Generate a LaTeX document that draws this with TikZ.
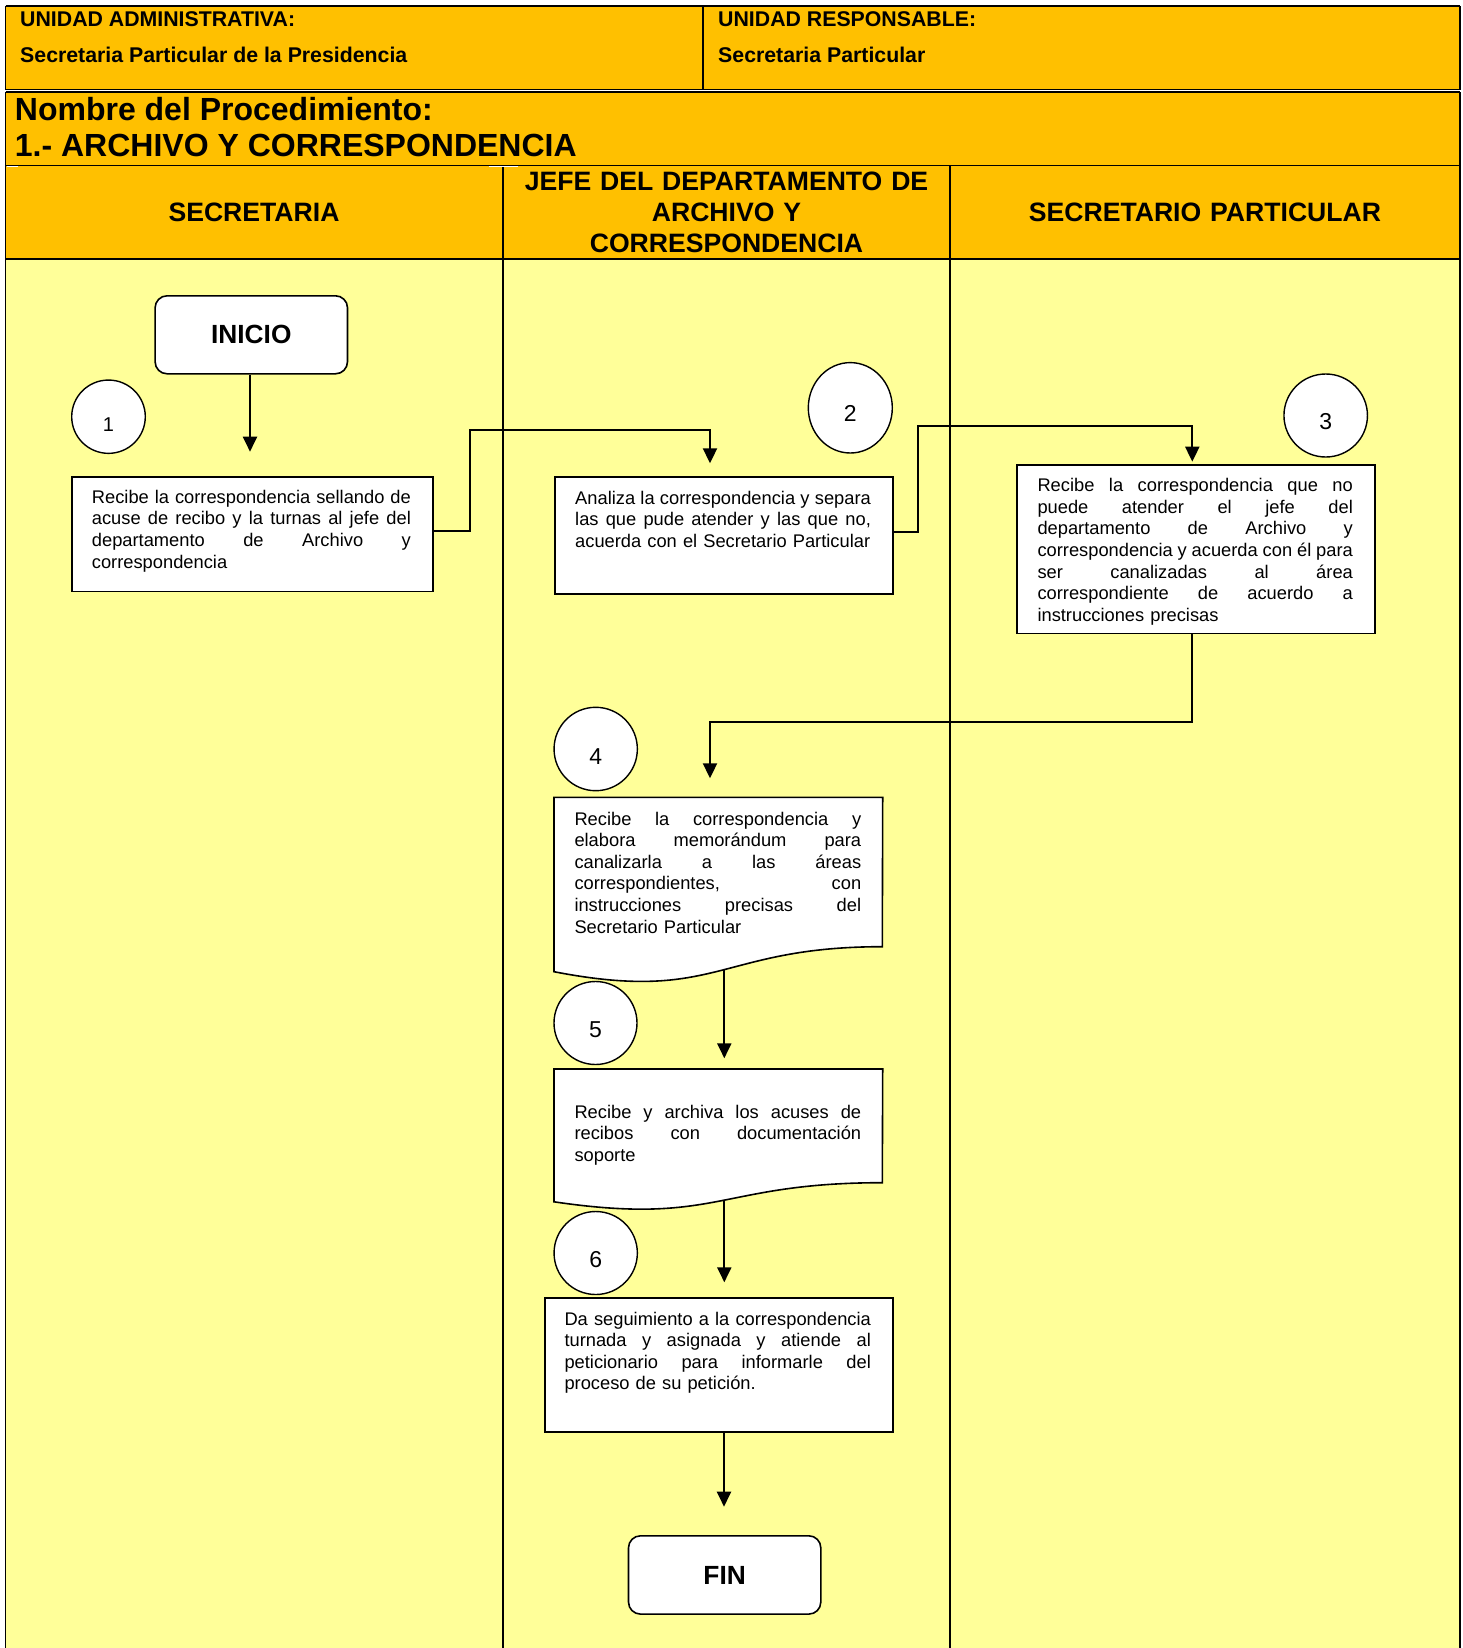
\documentclass[tikz,border=0pt]{standalone}
\usepackage{fontspec}
\setmainfont{Liberation Sans}
\usetikzlibrary{arrows.meta,shapes.geometric,calc}
\pgfdeclarelayer{bg}
\pgfdeclarelayer{links}
\pgfsetlayers{bg,links,main}
% one fully justified line of a step description
\newcommand\jline[1]{\leavevmode\hbox to \hsize{\spaceskip=\fontdimen2\font plus 1fil minus \fontdimen4\font\relax #1}}
\definecolor{hdorange}{HTML}{FFC000}
\definecolor{laneyel}{HTML}{FFFF99}
\begin{document}
\begin{tikzpicture}[x=1pt,y=-1pt,
  grid/.style={line width=1.2pt,black},
  hdsmall/.style={font=\fontsize{21.3}{24}\selectfont\bfseries,inner sep=0pt,anchor=base west},
  hdtitle/.style={font=\fontsize{32}{36}\selectfont\bfseries,inner sep=0pt,anchor=base west},
  lanehd/.style={font=\fontsize{26.6}{30.8}\selectfont\bfseries,inner sep=0pt,anchor=base,align=center,text width=440pt},
  box/.style={draw,line width=1.6pt,fill=white,inner sep=0pt,anchor=north west},
  term/.style={box,rounded corners=12pt},
  termtxt/.style={font=\fontsize{26.3}{30}\selectfont\bfseries,inner sep=0pt},
  docarea/.style={inner sep=0pt,anchor=north west},
  docline/.style={draw,line width=1.6pt,fill=white},
  circ/.style={ellipse,draw,line width=1.4pt,fill=white,inner sep=0pt},
  num/.style={font=\fontsize{23}{26}\selectfont,inner sep=0pt},
  body/.style={font=\fontsize{18.3}{21.6}\selectfont,inner sep=0pt,align=left,anchor=base west},
  link/.style={line width=2pt,-{Triangle[length=15pt,width=14pt]}}
]
\useasboundingbox (0,0) rectangle (1463,1648);

% ---------- table frame, headers and swimlanes ----------
\begin{pgfonlayer}{bg}
  \fill[white] (0,0) rectangle (1463,1648);
  \fill[hdorange] (5.5,6) rectangle (1460,89.8);
  \fill[hdorange] (5.5,92) rectangle (1460,259);
  \fill[laneyel] (5.5,259) rectangle (1460,1648);
  \draw[grid] (5.5,6) -- (1460,6);
  \draw[grid] (5.5,89.8) -- (1460,89.8);
  \draw[grid] (5.5,92) -- (1460,92);
  \draw[grid] (5.5,165.5) -- (1460,165.5);
  \draw[grid] (5.5,259) -- (1460,259);
  \draw[grid] (5.5,6) -- (5.5,89.8);
  \draw[grid] (1460,6) -- (1460,89.8);
  \draw[grid] (5.5,92) -- (5.5,1648);
  \draw[grid] (1460,92) -- (1460,1648);
  \draw[grid] (703,6) -- (703,89.8);
  \draw[grid] (503,165.5) -- (503,1648);
  \draw[grid] (950,165.5) -- (950,1648);
  \draw[white,line width=1pt] (6.5,166.7) -- (18,166.7);
  \draw[white,line width=1pt] (489,166.7) -- (517.7,166.7);
\end{pgfonlayer}

\node[hdsmall] (ua)  at (20,26.7)  {UNIDAD ADMINISTRATIVA:};
\node[hdsmall] (uan) at (20,62.7)  {Secretaria Particular de la Presidencia};
\node[hdsmall] (ur)  at (718,26.7) {UNIDAD RESPONSABLE:};
\node[hdsmall] (urn) at (718,62.7) {Secretaria Particular};
\node[hdtitle] (pt1) at (14.7,120.7) {Nombre del Procedimiento:};
\node[hdtitle] (pt2) at (14.7,156.7) {1.- ARCHIVO Y CORRESPONDENCIA};

\node[lanehd] (l1) at (254,221.7)   {SECRETARIA};
\node[lanehd] (l2) at (726.5,190.7) {JEFE DEL DEPARTAMENTO DE\\ARCHIVO Y\\CORRESPONDENCIA};
\node[lanehd] (l3) at (1205,221.7)  {SECRETARIO PARTICULAR};

% ---------- terminals ----------
\node[term,minimum width=192.4pt,minimum height=78pt] (inicio) at (154.3,295) {};
\node[termtxt] (inicioT) at (inicio.center) {INICIO};
\node[term,minimum width=192.3pt,minimum height=78.3pt] (fin) at (627.7,1535) {};
\node[termtxt] (finT) at (fin.center) {FIN};

% ---------- step numbers ----------
\node[circ,minimum width=73.6pt,minimum height=73.3pt] (c1) at (108.5,416.7) {};
\node[num,font=\fontsize{20}{24}\selectfont] (n1) at (108.5,424.5) {1};
\node[circ,minimum width=84pt,minimum height=90.4pt] (c2) at (850.3,407.8) {};
\node[num] (n2) at (850.3,413.5) {2};
\node[circ,minimum width=83.5pt,minimum height=83pt] (c3) at (1325.7,415.5) {};
\node[num] (n3) at (1325.7,421.7) {3};
\node[circ,minimum width=83.3pt,minimum height=83.4pt] (c4) at (595.7,749) {};
\node[num] (n4) at (595.7,756.5) {4};
\node[circ,minimum width=83pt,minimum height=83pt] (c5) at (595.5,1023) {};
\node[num] (n5) at (595.5,1029.3) {5};
\node[circ,minimum width=83.3pt,minimum height=83pt] (c6) at (595.7,1253) {};
\node[num] (n6) at (595.7,1259.3) {6};

% ---------- process boxes ----------
\node[box,minimum width=361.3pt,minimum height=114.7pt] (b1) at (71,476) {};
\node[body,text width=319pt] (t1) at (91.7,503.3) {%
  \jline{Recibe la correspondencia sellando de}\\
  \jline{acuse de recibo y la turnas al jefe del}\\
  \jline{departamento de Archivo y}\\
  correspondencia};

\node[box,minimum width=338.3pt,minimum height=117.3pt] (b2) at (554,476) {};
\node[body,text width=295.7pt] (t2) at (575,504) {%
  \jline{Analiza la correspondencia y separa}\\
  \jline{las que pude atender y las que no,}\\
  acuerda con el Secretario Particular};

\node[box,minimum width=358.3pt,minimum height=168.4pt] (b3) at (1016,464.3) {};
\node[body,text width=315.4pt] (t3) at (1037.3,491.7) {%
  \jline{Recibe la correspondencia que no}\\
  \jline{puede atender el jefe del}\\
  \jline{departamento de Archivo y}\\
  \jline{correspondencia y acuerda con él para}\\
  \jline{ser canalizadas al área}\\
  \jline{correspondiente de acuerdo a}\\
  instrucciones precisas};

% document-shaped steps
\node[docarea,minimum width=328.3pt,minimum height=174pt] (b4) at (554,797.3) {};
\path[docline] (b4.north west) -- (b4.north east) -- (882.3,946.7)
  .. controls (718.15,946.7) and (718.15,1003.6) .. (b4.south west) -- cycle;
\node[body,text width=286.7pt] (t4) at (574.3,825) {%
  \jline{Recibe la correspondencia y}\\
  \jline{elabora memorándum para}\\
  \jline{canalizarla a las áreas}\\
  \jline{correspondientes, con}\\
  \jline{instrucciones precisas del}\\
  Secretario Particular};

\node[docarea,minimum width=328.3pt,minimum height=132.4pt] (b5) at (554,1069) {};
\path[docline] (b5.north west) -- (b5.north east) -- (882.3,1182.7)
  .. controls (718.15,1182.7) and (718.15,1226) .. (b5.south west) -- cycle;
\node[body,text width=286.7pt] (t5) at (574.3,1118.3) {%
  \jline{Recibe y archiva los acuses de}\\
  \jline{recibos con documentación}\\
  soporte};

\node[box,minimum width=348.3pt,minimum height=133.7pt] (b6) at (544,1297.3) {};
\node[body,text width=306.4pt] (t6) at (564.3,1325) {%
  \jline{Da seguimiento a la correspondencia}\\
  \jline{turnada y asignada y atiende al}\\
  \jline{peticionario para informarle del}\\
  proceso de su petición.};

% ---------- connectors ----------
\coordinate (a1) at (250,451.7);
\coordinate (k1) at (470,430);
\coordinate (a2) at (710,463.3);
\coordinate (k2) at (917.7,426);
\coordinate (a3) at (1192.3,461.7);
\coordinate (k3) at (710,721.7);
\coordinate (a4) at (710,778.3);
\coordinate (a5) at (724.3,1058.3);
\coordinate (a6) at (724.3,1282.3);
\coordinate (a7) at (724,1506.7);

\begin{pgfonlayer}{links}
  \draw[link] (inicio.south -| a1) -- (a1);
  \draw[link] ([yshift=3pt]b1.east) -| (k1) -| (a2);
  \draw[link] ([yshift=3.5pt]b2.east) -| (k2) -| (a3);
  \draw[link] (b3.south -| a3) |- (k3) -- (a4);
  \draw[link] (b4.center -| a5) -- (a5);
  \draw[link] (b5.center -| a6) -- (a6);
  \draw[link] (b6.south -| a7) -- (a7);
\end{pgfonlayer}
\end{tikzpicture}
\end{document}
